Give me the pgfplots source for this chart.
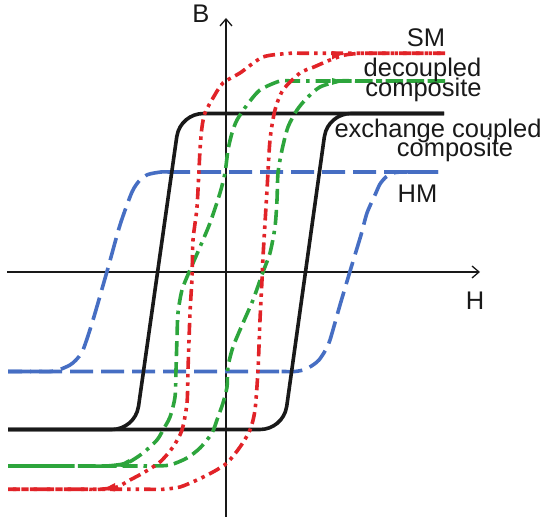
\documentclass[border=0pt]{standalone}
\usepackage{pgfplots}
\pgfplotsset{compat=1.18}
\usetikzlibrary{arrows.meta}
\usepackage{fontspec}
\setmainfont{Liberation Sans}
\definecolor{cRed}{RGB}{225,35,40}
\definecolor{cGreen}{RGB}{45,165,60}
\definecolor{cBlue}{RGB}{70,110,195}
\definecolor{cBlack}{RGB}{25,25,25}
\begin{document}
\begin{tikzpicture}
\begin{axis}[
  x=1pt, y=1pt,
  xmin=-219, xmax=254, ymin=-245, ymax=254,
  axis lines=middle,
  ticks=none,
  clip=false,
  axis line style={line width=1.3pt, cBlack, -{Straight Barb[length=7pt,width=12pt,line width=1.3pt]}},
  every axis plot/.append style={line width=3.6pt, smooth, tension=0.45},
]
\path (axis cs:-226,272) rectangle (axis cs:324,-253);
% HM (blue)
\addplot[cBlue, dash pattern=on 23pt off 8pt] coordinates {
 (212,100) (-40,100) (-54,100) (-65,100) (-78,97.5) (-86,92) (-94,80) (-106,47) (-118,4) (-133,-48) (-143,-78) (-150,-88) (-156,-93) (-166,-97.5) (-175,-99.5) (-188,-99.5) (-200,-99.5) (-218,-99.5)};
\addplot[cBlue, dash pattern=on 23pt off 8pt] coordinates {
 (-218,-99.5) (40,-99.5) (56,-99.5) (69,-99.5) (79,-97.5) (87,-93) (93,-88) (99,-79) (104,-68) (114,-33) (125,4) (135,37) (141,59) (149,77) (154,88) (160,95) (167,99) (176,100) (188,100) (200,100) (212,100)};
% exchange coupled composite (black)
\addplot[cBlack, sharp plot] coordinates {
 (218,158.5) (-22.5,158.5) (-27.19,158.09) (-31.73,156.87) (-36.0,154.88) (-39.86,152.18) (-43.18,148.86) (-45.88,145.0) (-47.87,140.73) (-49.24,135.26)
 (-87.46,-134.26) (-88.83,-139.73) (-90.82,-144.0) (-93.52,-147.86) (-96.84,-151.18) (-100.7,-153.88) (-104.97,-155.87) (-109.51,-157.09) (-114.2,-157.5) (-218,-157.5)};
\addplot[cBlack, sharp plot] coordinates {
 (-218,-157.5) (34,-157.5) (38.69,-157.09) (43.23,-155.87) (47.5,-153.88) (51.36,-151.18) (54.68,-147.86) (57.38,-144.0) (59.37,-139.73) (60.74,-134.26)
 (98.36,135.26) (99.73,140.73) (101.72,145.0) (104.42,148.86) (107.74,152.18) (111.6,154.88) (115.87,156.87) (120.41,158.09) (125.1,158.5) (218,158.5)};
% decoupled composite (green)
\addplot[cGreen, dash pattern=on 15pt off 6pt on 15pt off 6pt on 15pt off 6pt on 3.5pt off 6pt] coordinates {
 (219,191) (80,191) (66,191) (54,191) (34,182) (21,167) (11,152) (6,139) (2,122) (-1,99) (-6,79) (-16,49) (-26,25) (-36,2) (-44,-18) (-48,-41) (-49,-65) (-50,-98) (-51,-125) (-56,-145) (-63,-158) (-69,-168) (-83,-181) (-99,-191) (-119,-194) (-135,-194) (-150,-194) (-218,-194)};
\addplot[cGreen, dash pattern=on 15pt off 6pt on 15pt off 6pt on 15pt off 6pt on 3.5pt off 6pt] coordinates {
 (-218,-194) (-100,-194) (-86,-194) (-73,-194) (-56,-193) (-39,-186) (-26,-176) (-14,-161) (-8,-145) (-3,-131) (1,-115) (2,-95) (7,-75) (17,-51) (27,-28) (37,0) (44,19) (49,45) (51,72) (52,99) (56,122) (62,145) (71,162) (81,174) (94,185) (114,191) (130,191) (145,191) (219,191)};
% SM (red)
\addplot[cRed, dash pattern=on 12pt off 5pt on 3.5pt off 5pt on 3.5pt off 5pt] coordinates {
 (219,218.7) (90,218.7) (76,218.7) (64,218.7) (37,215) (14,199) (-3,189) (-13,174) (-21,159) (-24,145) (-26,122) (-29,65) (-33,32) (-34,-6) (-36,-41) (-38,-98) (-39,-131) (-44,-158) (-53,-175) (-66,-190) (-83,-201) (-96,-208) (-109,-215) (-126,-217.3) (-140,-217.3) (-155,-217.3) (-218,-217.3)};
\addplot[cRed, dash pattern=on 12pt off 5pt on 3.5pt off 5pt on 3.5pt off 5pt] coordinates {
 (-218,-217.3) (-90,-217.3) (-76,-217.3) (-63,-217.3) (-46,-215) (-29,-208) (-13,-200) (1,-191) (14,-175) (24,-158) (29,-138) (32,-98) (34,-48) (36,-8) (37,15) (41,82) (44,132) (49,162) (57,182) (74,199) (88,205) (104,212) (119,217) (135,218.7) (150,218.7) (165,218.7) (219,218.7)};
% direction wedges
\addplot[fill=cRed, draw=none, line width=0pt, sharp plot] coordinates {(106,212.5) (118,218.7) (106,221)} --cycle;
\addplot[fill=cGreen, draw=none, line width=0pt, sharp plot] coordinates {(106,187) (117,191) (106,194)} --cycle;
\addplot[fill=cGreen, draw=none, line width=0pt, sharp plot] coordinates {(-97,-187) (-110,-194) (-97,-196)} --cycle;
\addplot[fill=cRed, draw=none, line width=0pt, sharp plot] coordinates {(-111,-211) (-123,-217.3) (-111,-219.5)} --cycle;
% labels
\begin{scope}[every node/.style={inner sep=0pt, anchor=base, font=\fontsize{25.5}{20}\selectfont, text=cBlack}]
\node at (axis cs:-25,249) {B};
\node at (axis cs:249,-38) {H};
\node at (axis cs:200,225) {SM};
\node at (axis cs:196.5,195) {decoupled};
\node at (axis cs:197.5,175) {composite};
\node at (axis cs:212,134) {exchange coupled};
\node at (axis cs:229,115) {composite};
\node at (axis cs:191.5,69) {HM};
\end{scope}
\end{axis}
\end{tikzpicture}
\end{document}
